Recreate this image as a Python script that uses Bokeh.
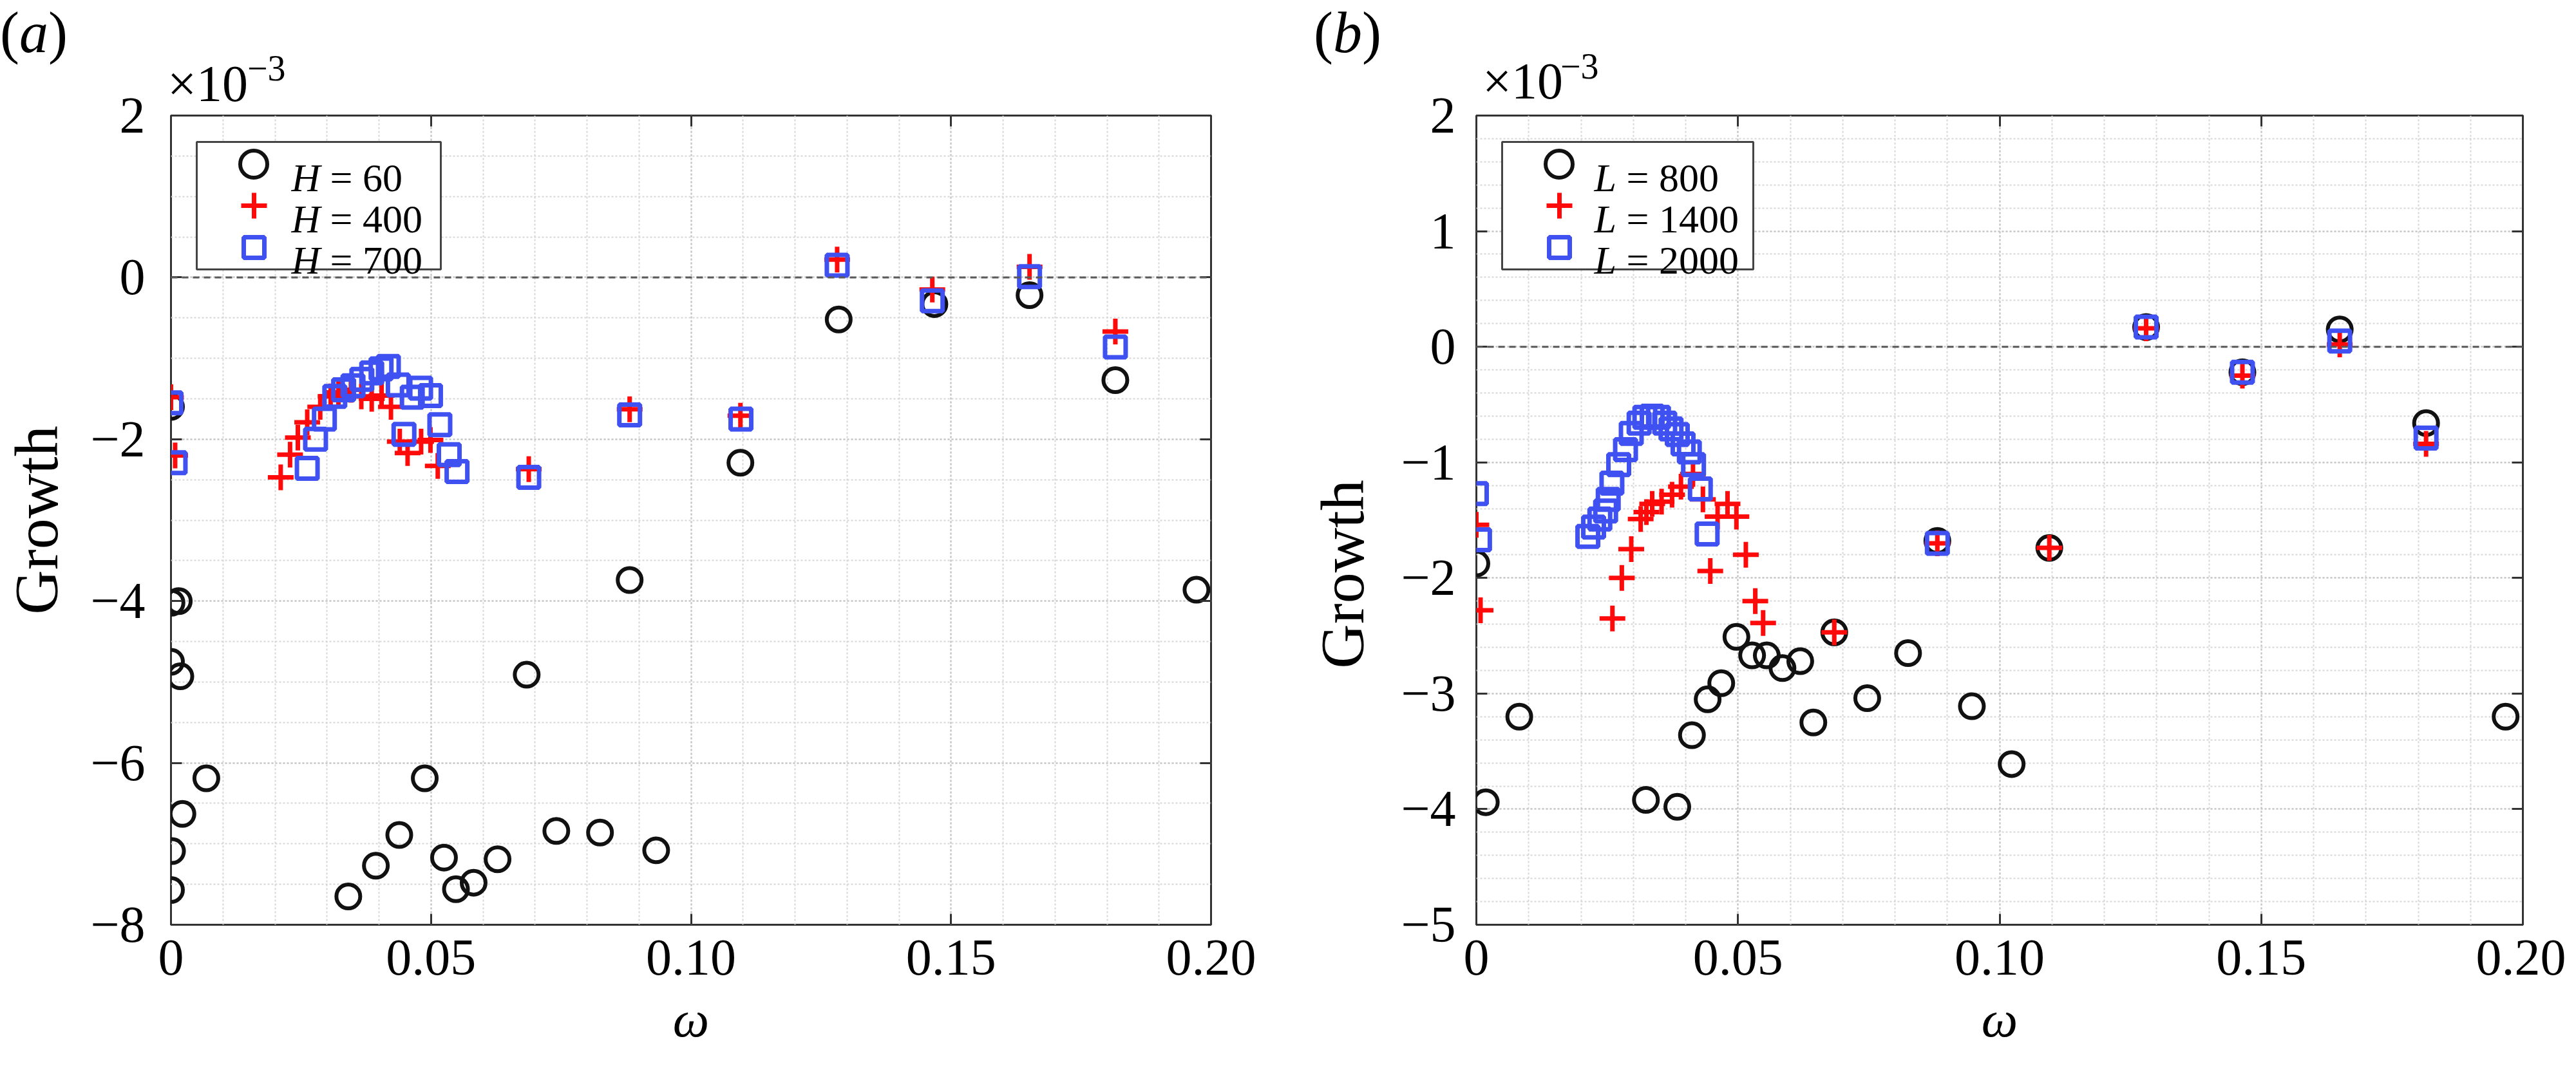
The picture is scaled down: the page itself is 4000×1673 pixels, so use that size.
import numpy as np
from bokeh.plotting import figure
from bokeh.models import (FixedTicker, Span, Label, Legend, LegendItem, LinearAxis,
                          Range1d, CustomJSTickFormatter, BoxAnnotation, Div, GridBox)
from bokeh.core.properties import value
from bokeh.embed import file_html
from bokeh.resources import INLINE

FONT = "Liberation Serif"

# ---------------- ticks ----------------
x_ticks = [0, 0.05, 0.10, 0.15, 0.20]
x_tick_labels = ["0", "0.05", "0.10", "0.15", "0.20"]
a_y_ticks = [-8, -6, -4, -2, 0, 2]
a_y_tick_labels = ["\u22128", "\u22126", "\u22124", "\u22122", "0", "2"]
b_y_ticks = [-5, -4, -3, -2, -1, 0, 1, 2]
b_y_tick_labels = ["\u22125", "\u22124", "\u22123", "\u22122", "\u22121", "0", "1", "2"]

# ---------------- panel (a): H ----------------
a_h60_x = [0.0, 0.0001, 0.0015, 0.0, 0.0018, 0.0068, 0.0022, 0.0002, 0.0, 0.0341,
           0.0394, 0.0439, 0.0488, 0.0525, 0.0548, 0.0582, 0.0628, 0.0684, 0.0741,
           0.0825, 0.0882, 0.0933, 0.1095, 0.1284, 0.1468, 0.1651, 0.1816, 0.1972]
a_h60_y = [-1.60, -4.02, -4.00, -4.75, -4.93, -6.19, -6.63, -7.09, -7.57, -7.65,
           -7.27, -6.89, -6.19, -7.17, -7.56, -7.48, -7.19, -4.91, -6.84,
           -6.86, -3.74, -7.08, -2.29, -0.52, -0.33, -0.22, -1.27, -3.86]

a_h400_x = [0.0, 0.0008, 0.0211, 0.0229, 0.0244, 0.0262, 0.0287, 0.0307, 0.0322,
            0.0346, 0.0366, 0.0386, 0.0405, 0.0423, 0.0440, 0.0455, 0.0481, 0.0499,
            0.0513, 0.0688, 0.0882, 0.1095, 0.1281, 0.1464, 0.1651, 0.1816]
a_h400_y = [-1.48, -2.20, -2.47, -2.19, -1.98, -1.79, -1.60, -1.47, -1.42,
            -1.39, -1.47, -1.50, -1.46, -1.60, -2.03, -2.17, -2.03, -2.01,
            -2.33, -2.37, -1.63, -1.71, 0.22, -0.15, 0.13, -0.67]

a_h700_x = [0.0, 0.0008, 0.0262, 0.0278, 0.0295, 0.0315, 0.0332, 0.0350, 0.0367,
            0.0386, 0.0404, 0.0418, 0.0437, 0.0448, 0.0464, 0.0480, 0.0499, 0.0517,
            0.0535, 0.0550, 0.0688, 0.0882, 0.1096, 0.1281, 0.1464, 0.1651, 0.1816]
a_h700_y = [-1.55, -2.29, -2.36, -2.00, -1.75, -1.47, -1.39, -1.34, -1.26,
            -1.18, -1.13, -1.10, -1.33, -1.94, -1.48, -1.37, -1.46, -1.82,
            -2.19, -2.40, -2.47, -1.70, -1.75, 0.15, -0.29, 0.01, -0.86]

# ---------------- panel (b): L ----------------
b_l800_x = [0.0, 0.0018, 0.0082, 0.0324, 0.0384, 0.0412, 0.0442, 0.0468, 0.0497,
            0.0527, 0.0555, 0.0585, 0.0619, 0.0644, 0.0684, 0.0747, 0.0825, 0.0881,
            0.0947, 0.1023, 0.1095, 0.1280, 0.1464, 0.1650, 0.1815, 0.1967]
b_l800_y = [-1.875, -3.94, -3.20, -3.92, -3.98, -3.36, -3.05, -2.91, -2.51,
            -2.67, -2.67, -2.78, -2.72, -3.25, -2.47, -3.04, -2.65, -1.68,
            -3.11, -3.61, -1.74, 0.17, -0.22, 0.15, -0.66, -3.20]

b_l1400_x = [0.0, 0.0008, 0.0260, 0.0278, 0.0296, 0.0314, 0.0325, 0.0336, 0.0354,
             0.0374, 0.0391, 0.0414, 0.0433, 0.0447, 0.0461, 0.0480, 0.0497, 0.0515,
             0.0533, 0.0548, 0.0684, 0.0881, 0.1095, 0.1280, 0.1464, 0.1650, 0.1815]
b_l1400_y = [-1.54, -2.28, -2.35, -2.00, -1.75, -1.49, -1.43, -1.36, -1.34,
             -1.28, -1.21, -1.10, -1.32, -1.94, -1.47, -1.36, -1.47, -1.80,
             -2.20, -2.39, -2.47, -1.70, -1.74, 0.16, -0.25, 0.02, -0.84]

b_l2000_x = [0.0, 0.0006, 0.0213, 0.0224, 0.0236, 0.0247, 0.0252, 0.0259, 0.0272,
             0.0285, 0.0296, 0.0311, 0.0322, 0.0336, 0.0348, 0.0360, 0.0372, 0.0384,
             0.0395, 0.0407, 0.0415, 0.0428, 0.0441, 0.0881, 0.1280, 0.1464, 0.1650,
             0.1815]
b_l2000_y = [-1.27, -1.67, -1.64, -1.56, -1.49, -1.42, -1.32, -1.18, -1.02,
             -0.89, -0.75, -0.66, -0.61, -0.60, -0.61, -0.66, -0.71, -0.76,
             -0.84, -0.91, -1.02, -1.23, -1.62, -1.70, 0.17, -0.22, 0.05,
             -0.79]

legend_a_symbol = "H"
legend_a_values = ["60", "400", "700"]
legend_b_symbol = "L"
legend_b_values = ["800", "1400", "2000"]
y_title = "Growth"
x_title = "\u03c9"

FRAME_W = 1625
FRAME_H = 1257
FIG_W = 1992
FIG_H = 1657
TOP_B = 179
BOTTOM_B = FIG_H - TOP_B - FRAME_H
HEAD_H = 182          # transparent html overlay on the figure's top strip

CIRCLE_COLOR = "#111111"
CROSS_COLOR = "#ff0a0a"
SQUARE_COLOR = "#3f51f0"
AXIS_COLOR = "#333333"


def tick_formatter(tick_values, tick_texts):
    return CustomJSTickFormatter(args=dict(tv=tick_values, tl=tick_texts), code="""
        for (let i = 0; i < tv.length; i++) {
            if (Math.abs(tv[i] - tick) < 1e-9) { return tl[i]; }
        }
        return "";
    """)


def header_div(letter, letter_left, exp_left, exp_top, sup_left, sup_top):
    span = ('<span style="position:absolute;left:{l}px;top:{t}px;font-size:{s}px;'
            'line-height:1;white-space:nowrap;">{txt}</span>')
    html = ('<div style="position:relative;width:%dpx;height:%dpx;margin:0;padding:0;'
            'font-family:\'Liberation Serif\',serif;color:#000;">' % (FIG_W, HEAD_H)
            + span.format(l=letter_left, t=6, s=90, txt="(<i>%s</i>)" % letter)
            + span.format(l=exp_left, t=exp_top, s=80, txt="\u00d710")
            + span.format(l=sup_left, t=sup_top, s=56, txt="\u22123")
            + '</div>')
    return Div(text=html, width=FIG_W, height=HEAD_H, margin=0,
               styles={"pointer-events": "none", "background": "transparent"})


def make_panel(series, y_range, y_ticks, y_labels, y_minor_step,
               border_left, border_right, sym, vals, legend_box_w,
               letter_x, letter_adv, ytick_standoff, ytitle_standoff, ytitle_pad):
    p = figure(width=FIG_W, height=FIG_H,
               x_range=Range1d(0, 0.2), y_range=Range1d(*y_range),
               output_backend="svg", toolbar_location=None,
               min_border_left=border_left, min_border_right=border_right,
               min_border_top=TOP_B, min_border_bottom=BOTTOM_B)
    p.background_fill_color = "white"
    p.border_fill_color = "white"
    p.outline_line_color = AXIS_COLOR
    p.outline_line_width = 3
    p.outline_line_alpha = 1.0

    xax = p.below[0]
    yax = p.left[0]

    x_minor = list(np.round(np.arange(0, 0.2 + 1e-9, 0.01), 4))
    y_minor = list(np.round(np.arange(y_range[0], y_range[1] + 1e-9, y_minor_step), 4))
    xax.ticker = FixedTicker(ticks=x_ticks, minor_ticks=x_minor)
    yax.ticker = FixedTicker(ticks=y_ticks, minor_ticks=y_minor)
    xax.formatter = tick_formatter(x_ticks, x_tick_labels)
    yax.formatter = tick_formatter(y_ticks, y_labels)

    # mirrored axes carrying only the inner ticks on top and right
    top_ax = LinearAxis(ticker=FixedTicker(ticks=x_ticks))
    right_ax = LinearAxis(ticker=FixedTicker(ticks=y_ticks))
    p.add_layout(top_ax, "above")
    p.add_layout(right_ax, "right")
    for ax in (top_ax, right_ax):
        ax.major_label_text_font_size = "1px"
        ax.major_label_text_color = None
        ax.major_label_standoff = 0

    for ax in (xax, yax, top_ax, right_ax):
        ax.axis_line_color = None
        ax.major_tick_in = 17
        ax.major_tick_out = 0
        ax.major_tick_line_color = AXIS_COLOR
        ax.major_tick_line_width = 3
        ax.minor_tick_line_color = None

    for ax in (xax, yax):
        ax.major_label_text_font = FONT
        ax.major_label_text_font_size = "80px"
        ax.major_label_text_color = "black"
        ax.axis_label_text_font = FONT
        ax.axis_label_text_color = "black"
        ax.axis_label_text_font_style = "normal"
    xax.major_label_standoff = 20
    yax.major_label_standoff = ytick_standoff

    xax.axis_label = x_title
    xax.axis_label_text_font_size = "80px"
    xax.axis_label_text_font_style = "italic"
    xax.axis_label_standoff = 22

    yax.axis_label = y_title + "\u00a0" * ytitle_pad
    yax.axis_label_text_font_size = "96px"
    yax.axis_label_standoff = ytitle_standoff

    for g in (p.xgrid[0], p.ygrid[0]):
        g.grid_line_color = "#c4c4c4"
        g.grid_line_dash = "3 3"
        g.grid_line_width = 2
        g.minor_grid_line_color = "#d6d6d6"
        g.minor_grid_line_dash = "3 3"
        g.minor_grid_line_width = 2

    zero = Span(location=0, dimension="width", line_color="#5a5a5a",
                line_dash="10 7", line_width=3)
    p.add_layout(zero)

    (cx, cy), (px_, py_), (sx, sy) = series
    r1 = p.scatter(cx, cy, marker="circle", size=37, fill_color=None,
                   line_color=CIRCLE_COLOR, line_width=6)
    r2 = p.scatter(px_, py_, marker="cross", size=40,
                   line_color=CROSS_COLOR, line_width=7)
    r3 = p.scatter(sx, sy, marker="square", size=32, fill_color=None,
                   line_color=SQUARE_COLOR, line_width=7)

    # ---- legend: frame box, one borderless legend per entry, text labels ----
    box_left, box_top, box_h = 40, FRAME_H - 41, 198
    p.add_layout(BoxAnnotation(left=box_left, right=box_left + legend_box_w,
                               top=box_top, bottom=box_top - box_h,
                               left_units="screen", right_units="screen",
                               top_units="screen", bottom_units="screen",
                               fill_color="white", fill_alpha=1.0,
                               line_color="#444444", line_width=3, line_alpha=1.0))
    row_centers = [FRAME_H - 75.5, FRAME_H - 140, FRAME_H - 204.5]
    glyph_boxes = [105, 100, 80]
    for r, rc, gbox in zip((r1, r2, r3), row_centers, glyph_boxes):
        leg = Legend(items=[LegendItem(label=value(" "), renderers=[r])],
                     location=(int(round(box_left + 89 - gbox / 2)),
                               int(round(rc - gbox / 2))),
                     orientation="vertical", padding=0, spacing=0, margin=0,
                     glyph_height=gbox, glyph_width=gbox,
                     label_standoff=0, label_width=1, label_height=1,
                     label_text_font_size="10px", label_text_color=None,
                     border_line_color=None, background_fill_alpha=0.0)
        p.add_layout(leg)

    baselines = [1161, 1097, 1033]
    for v, yb in zip(vals, baselines):
        p.add_layout(Label(x=letter_x, y=yb, x_units="screen", y_units="screen",
                           text=sym, text_font=FONT, text_font_size="62px",
                           text_font_style="italic", text_baseline="alphabetic",
                           text_color="black"))
        p.add_layout(Label(x=letter_x + letter_adv + 15, y=yb, x_units="screen",
                           y_units="screen", text="= " + v, text_font=FONT,
                           text_font_size="62px", text_baseline="alphabetic",
                           text_color="black"))
    return p


pa = make_panel(((a_h60_x, a_h60_y), (a_h400_x, a_h400_y), (a_h700_x, a_h700_y)),
                (-8, 2), a_y_ticks, a_y_tick_labels, 0.5,
                255, FIG_W - 255 - FRAME_W, legend_a_symbol, legend_a_values, 379,
                187, 45, 36, 27, 0)
pb = make_panel(((b_l800_x, b_l800_y), (b_l1400_x, b_l1400_y), (b_l2000_x, b_l2000_y)),
                (-5, 2), b_y_ticks, b_y_tick_labels, 0.2,
                300, FIG_W - 300 - FRAME_W, legend_b_symbol, legend_b_values, 390,
                183, 35, 28, 34, 7)

da = header_div("a", 0, 260, 90, 384, 78)
db = header_div("b", 48, 310, 86, 431, 75)

# figures and their header overlays share a grid cell; the overlay comes last so it
# sits on top of the figure's (white) top border strip
layout = GridBox(children=[(pa, 0, 0), (da, 0, 0), (pb, 0, 1), (db, 0, 1)])
open("out.html", "w").write(file_html(layout, INLINE))
